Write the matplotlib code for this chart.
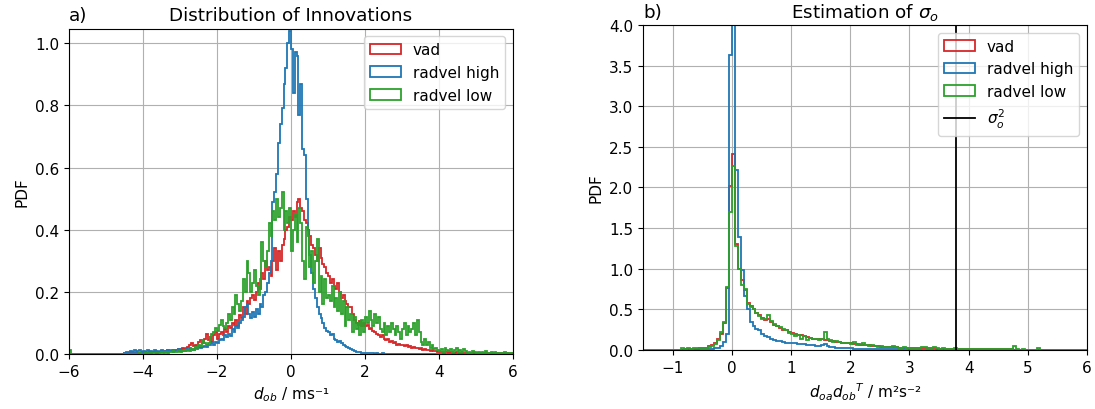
import matplotlib
matplotlib.use("Agg")
import matplotlib.pyplot as plt
import numpy as np

plt.rcParams['font.size'] = 11

# panel a: innovations d_ob, histogram bins of 0.05 from -6 to 6 (PDF values)
a_range = (-6, 6)
a_vad = [
    0, 0, 0, 0, 0, 0, 0, 0, 0, 0,
    0, 0, 0, 0, 0, 0, 0, 0, 0, 0,
    0, 0, 0, 0, 0, 0, 0, 0, 0, 0,
    0.002, 0, 0.003, 0.002, 0.004, 0.002, 0.003, 0.004, 0.002, 0.004,
    0.004, 0.005, 0.003, 0.006, 0.005, 0.007, 0.006, 0.005, 0.008, 0.007,
    0.008, 0.010, 0.009, 0.012, 0.010, 0.011, 0.013, 0.010, 0.014, 0.016,
    0.015, 0.018, 0.016, 0.020, 0.022, 0.028, 0.034, 0.026, 0.030, 0.024,
    0.038, 0.044, 0.036, 0.050, 0.064, 0.046, 0.054, 0.040, 0.060, 0.070,
    0.050, 0.065, 0.072, 0.060, 0.080, 0.070, 0.090, 0.085, 0.100, 0.095,
    0.110, 0.090, 0.125, 0.115, 0.150, 0.130, 0.170, 0.160, 0.180, 0.190,
    0.175, 0.200, 0.230, 0.210, 0.260, 0.240, 0.300, 0.270, 0.280, 0.250,
    0.300, 0.340, 0.270, 0.330, 0.300, 0.350, 0.370, 0.400, 0.410, 0.440,
    0.430, 0.460, 0.440, 0.490, 0.500, 0.470, 0.460, 0.430, 0.420, 0.400,
    0.380, 0.350, 0.340, 0.320, 0.300, 0.340, 0.310, 0.290, 0.280, 0.260,
    0.250, 0.230, 0.240, 0.220, 0.210, 0.230, 0.200, 0.180, 0.190, 0.170,
    0.160, 0.150, 0.150, 0.130, 0.110, 0.100, 0.095, 0.105, 0.090, 0.100,
    0.090, 0.095, 0.080, 0.085, 0.075, 0.070, 0.065, 0.060, 0.055, 0.060,
    0.050, 0.045, 0.048, 0.040, 0.042, 0.035, 0.038, 0.030, 0.032, 0.028,
    0.030, 0.026, 0.028, 0.022, 0.026, 0.020, 0.024, 0.018, 0.020, 0.016,
    0.018, 0.014, 0.015, 0.012, 0.014, 0.010, 0.012, 0.009, 0.010, 0.008,
    0.006, 0.008, 0.005, 0.007, 0.006, 0.004, 0.006, 0.005, 0.004, 0.006,
    0.003, 0.005, 0.004, 0.002, 0.004, 0.003, 0.002, 0.004, 0.002, 0.003,
    0.002, 0.003, 0.002, 0.001, 0.003, 0.002, 0.001, 0.002, 0.003, 0.001,
    0.002, 0.001, 0.002, 0.003, 0.001, 0.002, 0.001, 0.002, 0.001, 0.002,
]
a_high = [
    0, 0, 0, 0, 0, 0, 0, 0, 0, 0,
    0, 0, 0, 0, 0, 0, 0, 0, 0, 0,
    0, 0, 0, 0, 0, 0, 0, 0, 0, 0,
    0.004, 0.008, 0.006, 0.010, 0.008, 0.012, 0.006, 0.010, 0.012, 0.008,
    0.010, 0.006, 0.012, 0.008, 0.010, 0.006, 0.012, 0.010, 0.008, 0.010,
    0.012, 0.008, 0.010, 0.014, 0.010, 0.012, 0.008, 0.014, 0.012, 0.016,
    0.012, 0.014, 0.010, 0.016, 0.014, 0.018, 0.016, 0.014, 0.020, 0.016,
    0.022, 0.018, 0.024, 0.026, 0.022, 0.030, 0.028, 0.034, 0.030, 0.040,
    0.036, 0.044, 0.050, 0.046, 0.060, 0.054, 0.066, 0.058, 0.080, 0.072,
    0.090, 0.084, 0.100, 0.110, 0.120, 0.150, 0.160, 0.130, 0.115, 0.135,
    0.120, 0.145, 0.130, 0.160, 0.150, 0.190, 0.200, 0.230, 0.260, 0.300,
    0.490, 0.520, 0.580, 0.680, 0.740, 0.790, 0.870, 0.920, 1.000, 1.040,
    0.980, 0.840, 0.970, 0.960, 0.770, 0.870, 0.660, 0.640, 0.500, 0.400,
    0.320, 0.260, 0.210, 0.180, 0.150, 0.130, 0.115, 0.100, 0.085, 0.075,
    0.070, 0.060, 0.065, 0.050, 0.045, 0.040, 0.042, 0.035, 0.030, 0.026,
    0.022, 0.018, 0.016, 0.012, 0.010, 0.008, 0.006, 0.008, 0.004, 0.005,
    0.003, 0.004, 0.002, 0.003, 0.002, 0.001, 0.002, 0.001, 0.001, 0.002,
    0, 0.001, 0, 0.001, 0, 0, 0.001, 0, 0, 0,
    0, 0, 0, 0, 0, 0, 0, 0, 0, 0,
    0, 0, 0, 0, 0, 0, 0, 0, 0, 0,
    0, 0, 0, 0, 0, 0, 0, 0, 0, 0,
    0, 0, 0, 0, 0, 0, 0, 0, 0, 0,
    0, 0, 0, 0, 0, 0, 0, 0, 0, 0,
    0, 0, 0, 0, 0, 0, 0, 0, 0, 0,
]
a_low = [
    0.014, 0, 0, 0, 0, 0, 0, 0, 0, 0,
    0, 0, 0, 0, 0, 0, 0, 0, 0, 0,
    0, 0, 0, 0, 0, 0, 0, 0, 0, 0,
    0, 0, 0, 0, 0, 0, 0, 0, 0.002, 0,
    0, 0.002, 0, 0.003, 0.002, 0.004, 0.003, 0.005, 0.004, 0.003,
    0.006, 0.004, 0.007, 0.005, 0.008, 0.006, 0.009, 0.007, 0.008, 0.010,
    0.008, 0.010, 0.012, 0.009, 0.014, 0.011, 0.016, 0.013, 0.022, 0.018,
    0.030, 0.026, 0.042, 0.034, 0.028, 0.036, 0.055, 0.065, 0.070, 0.085,
    0.075, 0.095, 0.110, 0.090, 0.085, 0.100, 0.130, 0.110, 0.150, 0.130,
    0.190, 0.160, 0.140, 0.170, 0.240, 0.200, 0.300, 0.260, 0.200, 0.230,
    0.270, 0.220, 0.190, 0.240, 0.360, 0.300, 0.280, 0.330, 0.420, 0.380,
    0.460, 0.430, 0.500, 0.440, 0.470, 0.520, 0.400, 0.460, 0.420, 0.470,
    0.330, 0.400, 0.450, 0.360, 0.470, 0.420, 0.300, 0.240, 0.410, 0.380,
    0.280, 0.330, 0.230, 0.300, 0.370, 0.200, 0.250, 0.160, 0.240, 0.180,
    0.190, 0.170, 0.220, 0.150, 0.180, 0.140, 0.200, 0.130, 0.170, 0.090,
    0.150, 0.110, 0.130, 0.070, 0.120, 0.080, 0.100, 0.060, 0.110, 0.070,
    0.120, 0.100, 0.140, 0.110, 0.090, 0.130, 0.100, 0.120, 0.080, 0.070,
    0.100, 0.060, 0.090, 0.070, 0.100, 0.080, 0.060, 0.090, 0.070, 0.050,
    0.080, 0.100, 0.060, 0.090, 0.070, 0.080, 0.100, 0.060, 0.110, 0.070,
    0.040, 0.030, 0.050, 0.030, 0.040, 0.020, 0.030, 0.015, 0.020, 0.012,
    0.010, 0.015, 0.008, 0.020, 0.012, 0.010, 0.016, 0.006, 0.012, 0.020,
    0.008, 0.012, 0.006, 0.015, 0.010, 0.005, 0.008, 0.004, 0.010, 0.006,
    0.004, 0.008, 0.003, 0.006, 0.002, 0.010, 0.004, 0.003, 0.006, 0.002,
    0.008, 0.003, 0.005, 0.002, 0.004, 0.006, 0.002, 0.003, 0.004, 0.002,
]

# panel b: d_oa d_ob^T, bins of 0.05 from -1.5 to 6
b_range = (-1.5, 6)
b_vad = [
    0, 0, 0, 0, 0.001, 0, 0.002, 0.001, 0.002, 0.003,
    0.003, 0.004, 0.005, 0.005, 0.006, 0.008, 0.010, 0.012, 0.015, 0.018,
    0.025, 0.03, 0.045, 0.06, 0.09, 0.14, 0.20, 0.33, 0.76, 2.02,
    2.41, 1.30, 1.00, 0.86, 0.74, 0.58, 0.54, 0.50, 0.46, 0.43,
    0.39, 0.37, 0.38, 0.34, 0.31, 0.29, 0.27, 0.25, 0.24, 0.22,
    0.21, 0.20, 0.19, 0.18, 0.17, 0.16, 0.15, 0.14, 0.14, 0.13,
    0.13, 0.12, 0.12, 0.11, 0.11, 0.10, 0.10, 0.09, 0.09, 0.08,
    0.08, 0.075, 0.07, 0.065, 0.06, 0.058, 0.055, 0.05, 0.048, 0.045,
    0.042, 0.04, 0.038, 0.036, 0.034, 0.032, 0.03, 0.03, 0.028, 0.027,
    0.026, 0.025, 0.024, 0.022, 0.021, 0.02, 0.019, 0.018, 0.018, 0.017,
    0.016, 0.015, 0.015, 0.014, 0.013, 0.013, 0.012, 0.012, 0.011, 0.011,
    0.010, 0.010, 0.009, 0.009, 0.009, 0.008, 0.008, 0.008, 0.007, 0.007,
    0.007, 0.006, 0.006, 0.006, 0.006, 0.005, 0.005, 0.005, 0.005, 0.005,
    0.004, 0.004, 0.004, 0.004, 0.004, 0.004, 0.003, 0.003, 0.003, 0.003,
    0.003, 0.003, 0.003, 0.003, 0.002, 0.002, 0.002, 0.002, 0.002, 0.002,
]
b_high = [
    0, 0, 0, 0, 0, 0, 0, 0, 0, 0,
    0, 0, 0, 0.002, 0.002, 0.003, 0.004, 0.005, 0.006, 0.008,
    0.008, 0.010, 0.012, 0.015, 0.02, 0.03, 0.05, 0.10, 0.20, 3.63,
    5.2, 2.22, 1.39, 0.98, 0.67, 0.50, 0.34, 0.30, 0.26, 0.24,
    0.20, 0.17, 0.16, 0.13, 0.12, 0.11, 0.11, 0.10, 0.09, 0.09,
    0.08, 0.08, 0.07, 0.07, 0.07, 0.06, 0.06, 0.06, 0.05, 0.05,
    0.06, 0.07, 0.05, 0.04, 0.035, 0.03, 0.03, 0.025, 0.02, 0.02,
    0.018, 0.016, 0.015, 0.014, 0.013, 0.012, 0.012, 0.011, 0.010, 0.010,
    0.009, 0.009, 0.008, 0.008, 0.008, 0.007, 0.007, 0.006, 0.006, 0.006,
    0.005, 0.005, 0.005, 0.004, 0.004, 0.004, 0.004, 0.003, 0.003, 0.003,
    0.003, 0.003, 0.002, 0.002, 0.002, 0.002, 0.002, 0.002, 0.001, 0.001,
    0.001, 0.001, 0.001, 0.001, 0.001, 0.001, 0.001, 0.001, 0.001, 0.001,
    0.001, 0, 0.001, 0, 0.001, 0, 0, 0.001, 0, 0,
    0, 0, 0, 0, 0, 0, 0, 0, 0, 0,
    0, 0, 0, 0, 0, 0, 0, 0, 0, 0,
]
b_low = [
    0, 0, 0, 0, 0, 0, 0, 0.002, 0.003, 0.002,
    0.004, 0.005, 0.004, 0.03, 0.012, 0.02, 0.015, 0.02, 0.018, 0.02,
    0.03, 0.028, 0.035, 0.045, 0.07, 0.12, 0.22, 0.35, 0.78, 1.70,
    2.27, 1.28, 1.00, 0.80, 0.75, 0.57, 0.53, 0.50, 0.45, 0.42,
    0.38, 0.38, 0.43, 0.36, 0.32, 0.30, 0.28, 0.26, 0.24, 0.21,
    0.20, 0.17, 0.18, 0.13, 0.17, 0.12, 0.15, 0.13, 0.13, 0.12,
    0.13, 0.22, 0.14, 0.12, 0.10, 0.11, 0.10, 0.09, 0.08, 0.09,
    0.07, 0.10, 0.06, 0.07, 0.08, 0.06, 0.05, 0.06, 0.05, 0.04,
    0.045, 0.04, 0.035, 0.04, 0.05, 0.035, 0.03, 0.03, 0.035, 0.025,
    0.03, 0.025, 0.02, 0.025, 0.035, 0.04, 0.02, 0.02, 0.035, 0.02,
    0.015, 0.02, 0.015, 0.012, 0.015, 0.018, 0.012, 0.01, 0.01, 0.012,
    0.01, 0.008, 0.012, 0.009, 0.01, 0.008, 0.015, 0.008, 0.007, 0.009,
    0.008, 0.006, 0.007, 0.008, 0.006, 0.045, 0.006, 0.005, 0.006, 0.005,
    0.005, 0.004, 0.005, 0.03, 0.005, 0.004, 0.003, 0.005, 0.003, 0.004,
    0.003, 0.004, 0.003, 0.002, 0.004, 0.003, 0.002, 0.003, 0.002, 0.003,
]
sigma_o2 = 3.79

labels = ['vad', 'radvel high', 'radvel low']
colors = ['tab:red', 'tab:blue', 'tab:green']


def step_hist(ax, values, rng, color, label):
    edges = np.linspace(rng[0], rng[1], len(values) + 1)
    centers = 0.5 * (edges[:-1] + edges[1:])
    ax.hist(centers, bins=edges, weights=values, histtype='step',
            color=color, label=label, linewidth=1.3)


fig = plt.figure(figsize=(10.95, 4.1), dpi=100)
ax1 = fig.add_axes([0.063, 0.134, 0.4055, 0.794])
ax2 = fig.add_axes([0.5872, 0.144, 0.4055, 0.7927])

for vals, c, lab in zip([a_vad, a_high, a_low], colors, labels):
    step_hist(ax1, vals, a_range, c, lab)
ax1.set_xlim(-6, 6)
ax1.set_ylim(0, 1.047)
ax1.set_xticks(np.arange(-6, 7, 2))
ax1.grid(True)
ax1.set_axisbelow(True)
ax1.set_xlabel(r'$d_{ob}$ / ms⁻¹')
ax1.set_ylabel('PDF')
ax1.set_title('Distribution of Innovations')
ax1.set_title('a)', loc='left')
ax1.legend(loc='upper right')

for vals, c, lab in zip([b_vad, b_high, b_low], colors, labels):
    step_hist(ax2, vals, b_range, c, lab)
ax2.axvline(sigma_o2, color='black', linewidth=1.3, label=r'$\sigma_o^2$')
ax2.set_xlim(-1.5, 6)
ax2.set_ylim(0, 4)
ax2.set_xticks(np.arange(-1, 7, 1))
ax2.grid(True)
ax2.set_axisbelow(True)
ax2.set_xlabel(r'${d_{oa}d_{ob}}^T$ / m²s⁻²')
ax2.set_ylabel('PDF')
ax2.set_title(r'Estimation of $\sigma_o$')
ax2.set_title('b)', loc='left')
ax2.legend(loc='upper right')

fig.savefig('out.png', dpi=100)
